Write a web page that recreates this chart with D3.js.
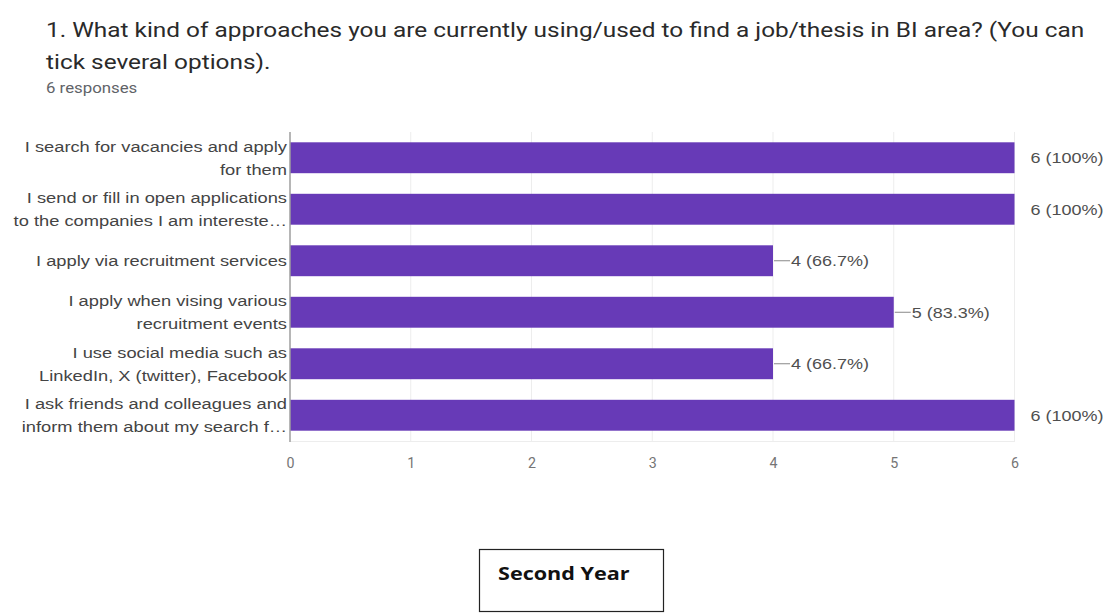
<!DOCTYPE html>
<html>
<head>
<meta charset="utf-8">
<script src="https://cdn.jsdelivr.net/npm/d3@7"></script>
<style>
  html, body { margin: 0; padding: 0; background: #fff; }
  svg { display: block; }
</style>
</head>
<body>
<svg id="chart" width="1119" height="614"></svg>
<script>
// Survey question and answer options (each option may wrap to two lines)
const titleLines = [
  "1. What kind of approaches you are currently using/used to find a job/thesis in BI area? (You can",
  "tick several options)."
];
const responsesNote = "6 responses";
const categories = [
  ["I search for vacancies and apply", "for them"],
  ["I send or fill in open applications", "to the companies I am intereste…"],
  ["I apply via recruitment services"],
  ["I apply when vising various", "recruitment events"],
  ["I use social media such as", "LinkedIn, X (twitter), Facebook"],
  ["I ask friends and colleagues and", "inform them about my search f…"]
];
const counts = [6, 6, 4, 5, 4, 6];
const percents = ["100%", "100%", "66.7%", "83.3%", "66.7%", "100%"];
const xTicks = [0, 1, 2, 3, 4, 5, 6];
const totalResponses = 6;
const caption = "Second Year";

const svg = d3.select("#chart");
const plot = { left: 290, right: 1014.5, top: 132, bottom: 441 };
const WIDEN = 1.2; // text is drawn slightly widened horizontally

// place a text element at (px, py) with horizontal widening
function place(sel, px, py, k = WIDEN) {
  return sel.attr("transform", `translate(${px},${py}) scale(${k},1)`);
}

// Title block
const title = svg.append("g").attr("font-family", "Roboto, 'Noto Sans', sans-serif");
titleLines.forEach((line, i) => {
  place(title.append("text"), 46, 37 + i * 32, 1.22)
    .attr("font-size", 20)
    .attr("fill", "#2a2a2a")
    .text(line);
});
place(title.append("text"), 46, 93)
  .attr("font-size", 14)
  .attr("fill", "#5f6368")
  .text(responsesNote);

const x = d3.scaleLinear().domain([0, totalResponses]).range([plot.left, plot.right]);
const y = d3.scaleBand()
  .domain(d3.range(categories.length))
  .range([plot.top, plot.bottom])
  .paddingInner(0.4)
  .paddingOuter(0.2);

// Vertical gridlines
svg.append("g").selectAll("line").data(xTicks.slice(1)).join("line")
  .attr("x1", d => x(d)).attr("x2", d => x(d))
  .attr("y1", plot.top).attr("y2", plot.bottom)
  .attr("stroke", "#ededed").attr("stroke-width", 1);

// Bottom axis with tick labels only
const xAxis = svg.append("g")
  .attr("transform", `translate(0,${plot.bottom})`)
  .call(d3.axisBottom(x).tickValues(xTicks).tickFormat(d3.format("d")).tickSize(0).tickPadding(16));
xAxis.select(".domain").attr("stroke", "#ededed");
xAxis.selectAll(".tick text")
  .attr("font-family", "Roboto, Arial, sans-serif")
  .attr("font-size", 15)
  .attr("fill", "#757575")
  .attr("transform", "scale(0.95,1)");

// Bars
svg.append("g").selectAll("rect").data(counts).join("rect")
  .attr("x", x(0))
  .attr("y", (d, i) => y(i))
  .attr("width", d => x(d) - x(0))
  .attr("height", y.bandwidth())
  .attr("fill", "#673ab7");

// Category axis line
svg.append("line")
  .attr("x1", plot.left).attr("x2", plot.left)
  .attr("y1", plot.top).attr("y2", plot.bottom + 1)
  .attr("stroke", "#9e9e9e").attr("stroke-width", 1.5);

// Category labels, right-aligned against the axis
const labels = svg.append("g")
  .attr("font-family", "Arial, 'Liberation Sans', sans-serif")
  .attr("font-size", 15)
  .attr("fill", "#444")
  .attr("text-anchor", "end");
categories.forEach((lines, i) => {
  const cy = y(i) + y.bandwidth() / 2;
  const lh = 23;
  const y0 = cy - (lines.length - 1) * lh / 2;
  lines.forEach((line, j) => {
    place(labels.append("text"), plot.left - 3, y0 + j * lh, 1.22)
      .attr("dy", "0.35em")
      .text(line);
  });
});

// Value labels: full bars get an outside label, others a leader line
const values = svg.append("g")
  .attr("font-family", "Arial, 'Liberation Sans', sans-serif")
  .attr("font-size", 15)
  .attr("fill", "#4f4f4f");
counts.forEach((d, i) => {
  const cy = y(i) + y.bandwidth() / 2;
  const label = `${d} (${percents[i]})`;
  if (d === totalResponses) {
    place(values.append("text"), plot.right + 16, cy)
      .attr("dy", "0.35em")
      .text(label);
  } else {
    values.append("line")
      .attr("x1", x(d) + 1).attr("x2", x(d) + 17)
      .attr("y1", cy).attr("y2", cy)
      .attr("stroke", "#888").attr("stroke-width", 1);
    place(values.append("text"), x(d) + 18, cy)
      .attr("dy", "0.35em")
      .text(label);
  }
});

// Caption box below the chart
const cap = svg.append("g");
cap.append("rect")
  .attr("x", 479.5).attr("y", 549.5)
  .attr("width", 184).attr("height", 62)
  .attr("fill", "#fff").attr("stroke", "#222").attr("stroke-width", 1.2);
place(cap.append("text"), 498, 580)
  .attr("font-family", "'Open Sans', Arial, sans-serif")
  .attr("font-weight", "bold")
  .attr("font-size", 18)
  .attr("fill", "#111")
  .text(caption);
</script>
</body>
</html>
